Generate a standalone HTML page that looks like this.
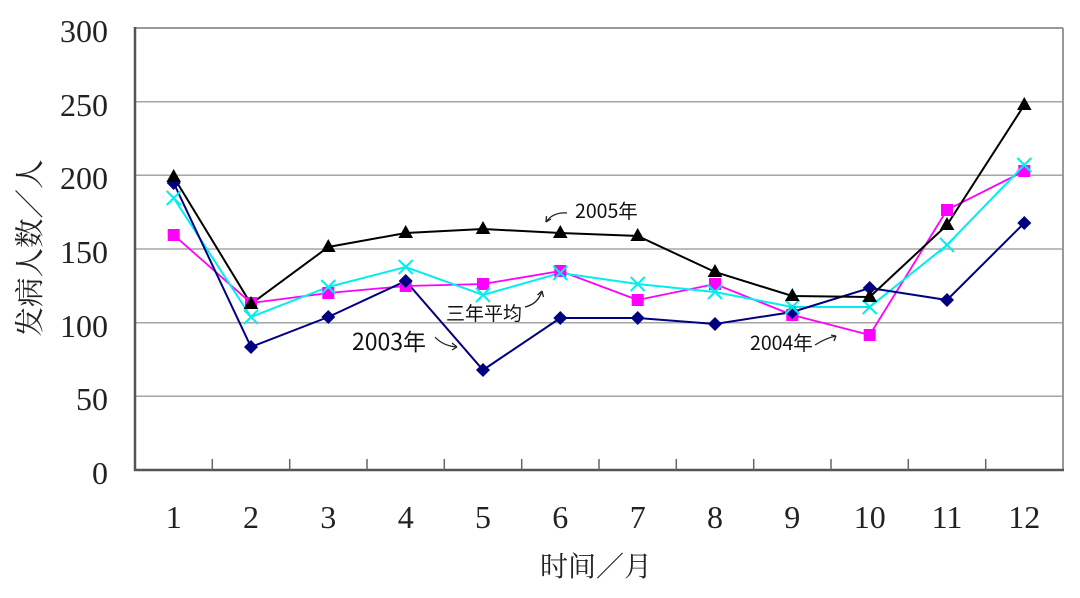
<!DOCTYPE html>
<html><head><meta charset="utf-8"><style>
html,body{margin:0;padding:0;background:#fff;}
svg{display:block;}
.ser{font-family:"Liberation Serif","Noto Serif CJK SC",serif;}
.cjs{font-family:"Noto Serif CJK SC","Liberation Serif",serif;}
.ann{font-family:"Noto Sans CJK SC","Liberation Sans",sans-serif;fill:#111;}
</style></head><body>
<svg width="1080" height="598" viewBox="0 0 1080 598" xmlns="http://www.w3.org/2000/svg">
<rect width="1080" height="598" fill="#fff"/>
<!-- gridlines -->
<g stroke="#a6a6a6" stroke-width="1.5">
<line x1="135" y1="101.7" x2="1063" y2="101.7"/>
<line x1="135" y1="175.3" x2="1063" y2="175.3"/>
<line x1="135" y1="249" x2="1063" y2="249"/>
<line x1="135" y1="322.7" x2="1063" y2="322.7"/>
<line x1="135" y1="396.3" x2="1063" y2="396.3"/>
</g>
<!-- frame -->
<line x1="135" y1="28" x2="1063" y2="28" stroke="#999" stroke-width="2"/>
<line x1="1063" y1="28" x2="1063" y2="470" stroke="#999" stroke-width="2"/>
<line x1="135" y1="27" x2="135" y2="471" stroke="#555" stroke-width="2.5"/>
<line x1="134" y1="470" x2="1064" y2="470" stroke="#555" stroke-width="2.5"/>
<!-- ticks -->
<g stroke="#666" stroke-width="1.5">
<line x1="212.3" y1="459" x2="212.3" y2="470"/><line x1="289.7" y1="459" x2="289.7" y2="470"/>
<line x1="367" y1="459" x2="367" y2="470"/><line x1="444.3" y1="459" x2="444.3" y2="470"/>
<line x1="521.7" y1="459" x2="521.7" y2="470"/><line x1="599" y1="459" x2="599" y2="470"/>
<line x1="676.3" y1="459" x2="676.3" y2="470"/><line x1="753.7" y1="459" x2="753.7" y2="470"/>
<line x1="831" y1="459" x2="831" y2="470"/><line x1="908.3" y1="459" x2="908.3" y2="470"/>
<line x1="985.7" y1="459" x2="985.7" y2="470"/>
</g>
<!-- y labels -->
<g class="ser" font-size="32" fill="#222" text-anchor="end">
<text x="108" y="42">300</text>
<text x="108" y="116">250</text>
<text x="108" y="189">200</text>
<text x="108" y="263">150</text>
<text x="108" y="337">100</text>
<text x="108" y="410">50</text>
<text x="108" y="484">0</text>
</g>
<!-- x labels -->
<g class="ser" font-size="32" fill="#222" text-anchor="middle">
<text x="173.7" y="528">1</text><text x="251" y="528">2</text><text x="328.3" y="528">3</text>
<text x="405.7" y="528">4</text><text x="483" y="528">5</text><text x="560.3" y="528">6</text>
<text x="637.7" y="528">7</text><text x="715" y="528">8</text><text x="792.3" y="528">9</text>
<text x="869.7" y="528">10</text><text x="947" y="528">11</text><text x="1024.3" y="528">12</text>
</g>
<!-- axis titles -->
<text class="cjs" x="596" y="576" font-size="28" fill="#222" text-anchor="middle">时间／月</text>
<text class="cjs" transform="translate(40,248) rotate(-90)" font-size="29.5" fill="#222" text-anchor="middle">发病人数／人</text>

<!-- series: magenta 2004 -->
<polyline fill="none" stroke="#ff00ff" stroke-width="1.8" points="173.7,235 251,303 328.3,293 405.7,286 483,284 560.3,271 637.7,300 715,284 792.3,315 869.7,335 947,210 1024.3,171"/>
<!-- cyan avg -->
<polyline fill="none" stroke="#00eeee" stroke-width="2" points="173.7,198 251,317 328.3,287 405.7,267 483,295 560.3,273 637.7,284 715,292 792.3,307 869.7,307 947,245 1024.3,165"/>
<!-- navy 2003 -->
<polyline fill="none" stroke="#000080" stroke-width="2" points="173.7,183 251,347 328.3,317 405.7,281 483,370 560.3,318 637.7,318 715,324 792.3,312 869.7,288 947,300 1024.3,223"/>
<!-- black 2005 -->
<polyline fill="none" stroke="#000" stroke-width="2" points="173.7,177 251,304 328.3,247 405.7,233 483,229 560.3,233 637.7,236 715,272 792.3,296 869.7,297 947,225 1024.3,105"/>

<!-- magenta squares -->
<g fill="#ff00ff">
<rect x="167.7" y="229" width="12" height="12"/><rect x="245" y="297" width="12" height="12"/>
<rect x="322.3" y="287" width="12" height="12"/><rect x="399.7" y="280" width="12" height="12"/>
<rect x="477" y="278" width="12" height="12"/><rect x="554.3" y="265" width="12" height="12"/>
<rect x="631.7" y="294" width="12" height="12"/><rect x="709" y="278" width="12" height="12"/>
<rect x="786.3" y="309" width="12" height="12"/><rect x="863.7" y="329" width="12" height="12"/>
<rect x="941" y="204" width="12" height="12"/><rect x="1018.3" y="165" width="12" height="12"/>
</g>
<!-- navy diamonds -->
<g fill="#000080">
<polygon points="173.7,176 180.7,183 173.7,190 166.7,183"/>
<polygon points="251,340 258,347 251,354 244,347"/>
<polygon points="328.3,310 335.3,317 328.3,324 321.3,317"/>
<polygon points="405.7,274 412.7,281 405.7,288 398.7,281"/>
<polygon points="483,363 490,370 483,377 476,370"/>
<polygon points="560.3,311 567.3,318 560.3,325 553.3,318"/>
<polygon points="637.7,311 644.7,318 637.7,325 630.7,318"/>
<polygon points="715,317 722,324 715,331 708,324"/>
<polygon points="792.3,305 799.3,312 792.3,319 785.3,312"/>
<polygon points="869.7,281 876.7,288 869.7,295 862.7,288"/>
<polygon points="947,293 954,300 947,307 940,300"/>
<polygon points="1024.3,216 1031.3,223 1024.3,230 1017.3,223"/>
</g>
<!-- cyan x markers -->
<g stroke="#00eeee" stroke-width="2" fill="none">
<path d="M166.7,191 l14,14 M180.7,191 l-14,14"/>
<path d="M244,310 l14,14 M258,310 l-14,14"/>
<path d="M321.3,280 l14,14 M335.3,280 l-14,14"/>
<path d="M398.7,260 l14,14 M412.7,260 l-14,14"/>
<path d="M476,288 l14,14 M490,288 l-14,14"/>
<path d="M553.3,266 l14,14 M567.3,266 l-14,14"/>
<path d="M630.7,277 l14,14 M644.7,277 l-14,14"/>
<path d="M708,285 l14,14 M722,285 l-14,14"/>
<path d="M785.3,300 l14,14 M799.3,300 l-14,14"/>
<path d="M862.7,300 l14,14 M876.7,300 l-14,14"/>
<path d="M940,238 l14,14 M954,238 l-14,14"/>
<path d="M1017.3,158 l14,14 M1031.3,158 l-14,14"/>
</g>
<!-- black triangles -->
<g fill="#000">
<polygon points="173.7,169 181,182 166.4,182"/>
<polygon points="251,296 258.3,309 243.7,309"/>
<polygon points="328.3,239 335.6,252 321,252"/>
<polygon points="405.7,225 413,238 398.4,238"/>
<polygon points="483,221 490.3,234 475.7,234"/>
<polygon points="560.3,225 567.6,238 553,238"/>
<polygon points="637.7,228 645,241 630.4,241"/>
<polygon points="715,264 722.3,277 707.7,277"/>
<polygon points="792.3,288 799.6,301 785,301"/>
<polygon points="869.7,289 877,302 862.4,302"/>
<polygon points="947,217 954.3,230 939.7,230"/>
<polygon points="1024.3,97 1031.6,110 1017,110"/>
</g>

<!-- annotations -->
<text class="ann" x="575" y="218" font-size="19.5">2005年</text>
<text class="ann" x="446" y="320" font-size="19">三年平均</text>
<text class="ann" x="352" y="350" font-size="23">2003年</text>
<text class="ann" x="750" y="350" font-size="19.5">2004年</text>
<g stroke="#222" stroke-width="1.3" fill="none">
<path d="M567,213 Q553,212 546,222"/>
<path d="M546,222 l0.5,-6 M546,222 l5,-3"/>
<path d="M525,307 Q538,304 542,291"/>
<path d="M542,291 l-4.5,4 M542,291 l1.5,6"/>
<path d="M435,337 Q443,346 457,347"/>
<path d="M457,347 l-5,-4 M457,347 l-5,3"/>
<path d="M815,345 Q826,338 836,336"/>
<path d="M836,336 l-5,-1 M836,336 l-2,5"/>
</g>
</svg>
</body></html>
